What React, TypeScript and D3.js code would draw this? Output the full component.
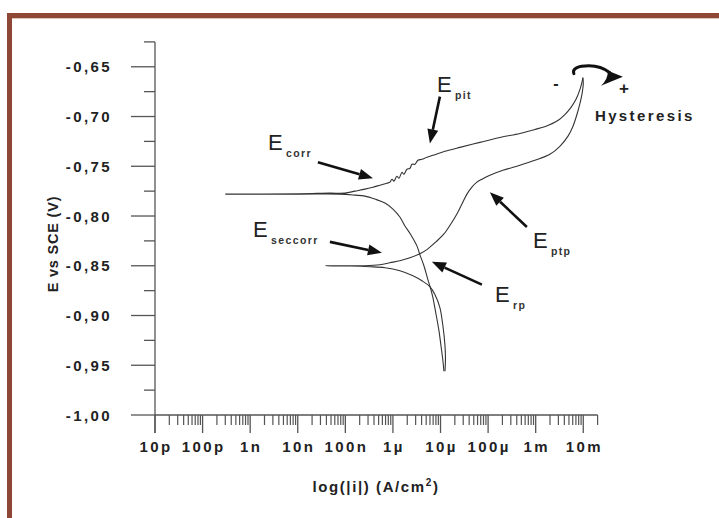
import React from "react";
import * as d3 from "d3";

// Cyclic polarisation scan: current density (A/cm²) and potential (V vs SCE)
// Forward scan: cathodic branch up to Ecorr, then anodic branch up to the vertex
const forwardCurrent = [
  1.18e-5, 1.12e-5, 1.02e-5, 9.25e-6, 8.0e-6, 6.92e-6, 6.28e-6, 5.43e-6, 4.48e-6, 3.69e-6,
  3.19e-6, 2.39e-6, 1.79e-6, 1.4e-6, 1.0e-6, 6.79e-7, 4.19e-7, 2.58e-7, 1.59e-7, 7.71e-8,
  1.11e-8, 3.0e-10, 1.11e-8, 4.74e-8, 9.82e-8, 1.59e-7, 2.58e-7, 3.8e-7, 5.33e-7, 7.48e-7,
  8.65e-7, 9.53e-7, 1.05e-6, 1.21e-6, 1.34e-6, 1.55e-6, 1.7e-6, 1.97e-6, 2.28e-6, 2.51e-6,
  2.9e-6, 3.35e-6, 4.06e-6, 5.18e-6, 6.92e-6, 1.24e-5, 2.56e-5, 6.73e-5, 1.77e-4, 4.66e-4,
  9.62e-4, 1.8e-3, 2.92e-3, 4.1e-3, 5.48e-3, 7.0e-3, 8.49e-3, 9.35e-3, 9.82e-3,
];
const forwardPotential = [
  -0.956, -0.945, -0.93, -0.915, -0.898, -0.882, -0.874, -0.864, -0.85, -0.839,
  -0.83, -0.819, -0.81, -0.801, -0.793, -0.787, -0.783, -0.78, -0.779, -0.778,
  -0.778, -0.778, -0.7777, -0.777, -0.777, -0.775, -0.773, -0.771, -0.769, -0.767,
  -0.766, -0.763, -0.765, -0.76, -0.762, -0.756, -0.758, -0.753, -0.752, -0.748,
  -0.748, -0.744, -0.743, -0.741, -0.739, -0.735, -0.731, -0.726, -0.721, -0.717,
  -0.713, -0.709, -0.704, -0.698, -0.691, -0.683, -0.673, -0.666, -0.661,
];

// Reverse scan: from the vertex back through Eptp, Erp and the second Ecorr
const reverseCurrent = [
  9.82e-3, 1.0e-2, 9.35e-3, 8.49e-3, 7.35e-3, 6.05e-3, 4.74e-3, 3.22e-3, 1.99e-3, 9.62e-4,
  4.66e-4, 2.05e-4, 1.09e-4, 7.41e-5, 5.82e-5, 4.57e-5, 3.59e-5, 2.82e-5, 2.21e-5, 1.65e-5,
  1.18e-5, 8.0e-6, 5.43e-6, 3.69e-6, 2.28e-6, 1.4e-6, 8.65e-7, 5.33e-7, 2.58e-7, 1.25e-7,
  3.9e-8, 1.25e-7, 3.29e-7, 6.79e-7, 1.4e-6, 2.63e-6, 4.06e-6, 5.98e-6, 7.62e-6, 9.7e-6,
  1.12e-5, 1.24e-5, 1.27e-5, 1.24e-5,
];
const reversePotential = [
  -0.661, -0.667, -0.678, -0.687, -0.698, -0.71, -0.72, -0.73, -0.738, -0.744,
  -0.749, -0.754, -0.759, -0.763, -0.766, -0.771, -0.778, -0.788, -0.798, -0.808,
  -0.818, -0.826, -0.833, -0.838, -0.842, -0.845, -0.847, -0.849, -0.85, -0.85,
  -0.85, -0.8503, -0.851, -0.852, -0.855, -0.86, -0.865, -0.871, -0.879, -0.892,
  -0.91, -0.93, -0.945, -0.956,
];

// Axis ticks
const yMajorTicks = [-1.0, -0.95, -0.9, -0.85, -0.8, -0.75, -0.7, -0.65];
const yMinorTicks = [-0.975, -0.925, -0.875, -0.825, -0.775, -0.725, -0.675, -0.625];
const xMajorTicks = [1e-11, 1e-10, 1e-9, 1e-8, 1e-7, 1e-6, 1e-5, 1e-4, 1e-3, 1e-2];
const xTickLabels = ["10p", "100p", "1n", "10n", "100n", "1µ", "10µ", "100µ", "1m", "10m"];

// Annotations: label, subscript, label anchor and arrow tail/tip in data units
const annLabels = ["E", "E", "E", "E", "E"];
const annSubs = ["corr", "pit", "seccorr", "ptp", "rp"];
const annLabelI = [2.37e-9, 8.39e-6, 1.15e-9, 8.73e-4, 1.39e-4];
const annLabelE = [-0.734, -0.675, -0.821, -0.832, -0.886];
const annTailI = [2.65e-8, 9.7e-6, 4.74e-8, 6.53e-4, 7.41e-5];
const annTailE = [-0.746, -0.68, -0.826, -0.811, -0.869];
const annTipI = [3.8e-7, 5.98e-6, 5.87e-7, 1.09e-4, 6.59e-6];
const annTipE = [-0.762, -0.727, -0.837, -0.776, -0.846];

const W = 719;
const H = 518;
const FONT = "'Liberation Sans', Arial, sans-serif";
const INK = "#222";
const AXIS = "#555";
const FRAME = "#8E4735";

const x = d3.scaleLog().domain([1e-11, 2e-2]).range([155, 597.6]);
const y = d3.scaleLinear().domain([-1.0, -0.625]).range([415, 41.9]);

const line = d3
  .line<[number, number]>()
  .x((d) => x(d[0]))
  .y((d) => y(d[1]))
  .curve(d3.curveCatmullRom.alpha(0.5));

const forward = forwardCurrent.map((c, i) => [c, forwardPotential[i]] as [number, number]);
const reverse = reverseCurrent.map((c, i) => [c, reversePotential[i]] as [number, number]);

const fmtY = (v: number) => d3.format(".2f")(v).replace(".", ",").replace("−", "-");

function Arrow({ x1, y1, x2, y2 }: { x1: number; y1: number; x2: number; y2: number }) {
  const ang = Math.atan2(y2 - y1, x2 - x1);
  const headL = 14;
  const headW = 5.5;
  const bx = x2 - headL * Math.cos(ang);
  const by = y2 - headL * Math.sin(ang);
  const nx = -Math.sin(ang);
  const ny = Math.cos(ang);
  const head = `M${x2},${y2}L${bx + nx * headW},${by + ny * headW}L${bx - nx * headW},${by - ny * headW}Z`;
  return (
    <g>
      <line x1={x1} y1={y1} x2={bx} y2={by} stroke="#111" strokeWidth={2.6} />
      <path d={head} fill="#111" />
    </g>
  );
}

export default function App() {
  const minorX = x.ticks().filter((t) => !xMajorTicks.some((m) => Math.abs(m - t) / m < 1e-6));
  const x0 = x.range()[0];
  const yBase = y(-1.0);
  const apexX = x(forwardCurrent[forwardCurrent.length - 1]);
  const apexY = y(forwardPotential[forwardPotential.length - 1]);

  return (
    <svg
      width={W}
      height={H}
      style={{ position: "absolute", left: 0, top: 0, background: "#fff" }}
      fontFamily={FONT}
    >
      {/* frame */}
      <rect x={7} y={13} width={W - 7} height={5} fill={FRAME} />
      <rect x={7} y={18} width={W - 7} height={1} fill="#e2c3b6" />
      <rect x={7} y={13} width={5} height={H - 13} fill={FRAME} />

      {/* y axis */}
      <line x1={x0} y1={y(-0.625)} x2={x0} y2={yBase + 18} stroke={AXIS} strokeWidth={1.3} />
      {yMajorTicks.map((t) => (
        <g key={"ym" + t}>
          <line x1={x0 - 24} x2={x0} y1={y(t)} y2={y(t)} stroke={AXIS} strokeWidth={1.3} />
          <text
            x={112}
            y={y(t) + 5.5}
            textAnchor="end"
            fontSize={15}
            fontWeight="bold"
            letterSpacing={2.4}
            fill={INK}
          >
            {fmtY(t)}
          </text>
        </g>
      ))}
      {yMinorTicks.map((t) => (
        <line key={"yn" + t} x1={x0 - 11} x2={x0} y1={y(t)} y2={y(t)} stroke={AXIS} strokeWidth={1.3} />
      ))}
      <text
        transform={`translate(58,244) rotate(-90)`}
        textAnchor="middle"
        fontSize={14.5}
        fontWeight="bold"
        letterSpacing={0.8}
        fill={INK}
      >
        E vs SCE (V)
      </text>

      {/* x axis */}
      <line x1={x0} y1={yBase} x2={x.range()[1]} y2={yBase} stroke={AXIS} strokeWidth={1.3} />
      {xMajorTicks.map((t, i) => (
        <g key={"xm" + i}>
          <line x1={x(t)} x2={x(t)} y1={yBase} y2={yBase + 18} stroke={AXIS} strokeWidth={1.3} />
          <text
            x={x(t) + 1}
            y={451.5}
            textAnchor="middle"
            fontSize={15}
            fontWeight="bold"
            letterSpacing={2.4}
            fill={INK}
          >
            {xTickLabels[i]}
          </text>
        </g>
      ))}
      {minorX.map((t, i) => (
        <line key={"xn" + i} x1={x(t)} x2={x(t)} y1={yBase} y2={yBase + 10} stroke={AXIS} strokeWidth={1.2} />
      ))}
      <text x={376} y={492} textAnchor="middle" fontSize={15} fontWeight="bold" letterSpacing={1.6} fill={INK}>
        log(|i|) (A/cm
        <tspan dy={-6} fontSize={10}>
          2
        </tspan>
        <tspan dy={6}>)</tspan>
      </text>

      {/* polarisation curve */}
      <path d={line(forward) ?? ""} fill="none" stroke="#333" strokeWidth={1.1} />
      <path d={line(reverse) ?? ""} fill="none" stroke="#333" strokeWidth={1.1} />

      {/* annotations */}
      {annSubs.map((s, i) => (
        <g key={"ann" + i}>
          <Arrow x1={x(annTailI[i])} y1={y(annTailE[i])} x2={x(annTipI[i])} y2={y(annTipE[i])} />
          <text x={x(annLabelI[i])} y={y(annLabelE[i])} fontSize={22} fill={INK}>
            {annLabels[i]}
          </text>
          <text
            x={x(annLabelI[i]) + 18}
            y={y(annLabelE[i]) + 7}
            fontSize={10.5}
            fontWeight="bold"
            letterSpacing={1.4}
            fill="#333"
          >
            {s}
          </text>
        </g>
      ))}

      {/* hysteresis marker at the vertex */}
      <g transform={`translate(${apexX},${apexY})`}>
        <path
          d="M-9,-4 C-11,-9 -5,-12 6,-12 C15,-12 22,-9 27,-5"
          fill="none"
          stroke="#111"
          strokeWidth={3}
          strokeLinecap="round"
        />
        <path d="M40,-1 L18,8 Q25,2 25,-7 Z" fill="#111" />
        <text x={-27} y={11} textAnchor="middle" fontSize={16} fontWeight="bold" fill={INK}>
          -
        </text>
        <text x={41} y={16} textAnchor="middle" fontSize={17} fontWeight="bold" fill={INK}>
          +
        </text>
        <text x={12} y={43} fontSize={15} fontWeight="bold" letterSpacing={2.4} fill={INK}>
          Hysteresis
        </text>
      </g>
    </svg>
  );
}
